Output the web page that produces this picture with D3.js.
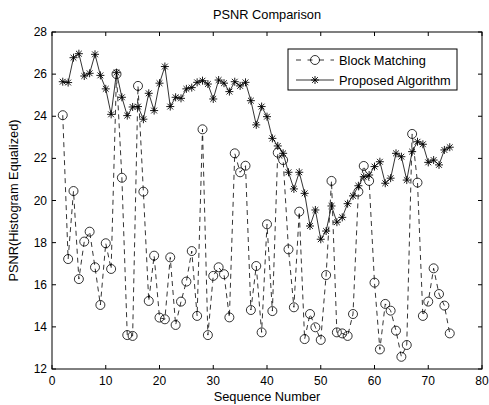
<!DOCTYPE html>
<html>
<head>
<meta charset="utf-8">
<script src="https://cdn.jsdelivr.net/npm/d3@7"></script>
<style>
  body { margin: 0; background: #fff; }
  svg { display: block; font-family: 'Liberation Sans', Arial, sans-serif; }
</style>
</head>
<body>
<svg width="489" height="405"></svg>
<script>
// Sequence numbers and PSNR values
const sequence = d3.range(2, 75)
const blockMatching = [
  24.05, 17.22, 20.45, 16.27, 18.05, 18.52, 16.83, 15.04, 17.97, 16.75,
  26.0, 21.08, 13.61, 13.57, 25.44, 20.42, 15.23, 17.38, 14.44, 14.36,
  17.3, 14.09, 15.2, 16.15, 17.6, 14.52, 23.38, 13.61, 16.42, 16.83,
  16.5, 14.45, 22.24, 21.34, 21.65, 14.8, 16.89, 13.74, 18.87, 14.75,
  22.27, 21.92, 17.68, 14.93, 19.47, 13.42, 14.61, 13.98, 13.38, 16.46,
  20.93, 13.74, 13.69, 13.57, 14.61, 20.42, 21.64, 20.93, 16.1, 12.93,
  15.09, 14.77, 13.82, 12.58, 13.14, 23.16, 20.85, 14.52, 15.2, 16.78,
  15.56, 15.01, 13.69,
]
const proposed = [
  25.64, 25.6, 26.78, 26.97, 25.91, 26.04, 26.94, 25.94, 25.3, 24.09,
  26.07, 24.9, 24.03, 24.44, 24.46, 23.86, 25.09, 24.27, 25.57, 26.36,
  24.46, 24.9, 24.85, 25.3, 25.36, 25.61, 25.69, 25.53, 24.82, 25.72,
  25.57, 25.17, 25.64, 25.44, 25.61, 24.74, 23.59, 24.46, 23.98, 22.95,
  22.59, 22.24, 21.34, 20.55, 21.34, 20.34, 18.79, 19.55, 18.16, 18.55,
  19.74, 18.97, 19.2, 19.85, 20.22, 20.7, 21.13, 21.21, 21.61, 21.84,
  20.82, 21.06, 22.24, 22.08, 20.97, 22.32, 22.79, 22.67, 21.81, 21.92,
  21.69, 22.4, 22.53,
]
const xTicks = [0, 10, 20, 30, 40, 50, 60, 70, 80]
const yTicks = [12, 14, 16, 18, 20, 22, 24, 26, 28]
const seriesNames = ['Block Matching', 'Proposed Algorithm']

const svg = d3.select('svg')
const plotLeft = 52
const plotRight = 482
const plotTop = 32
const plotBottom = 369
const labelSize = 12.8

const x = d3.scaleLinear().domain([0, 80]).range([plotLeft, plotRight])
const y = d3.scaleLinear().domain([12, 28]).range([plotBottom, plotTop])

// star marker like matlab '*'
const starPath = (s) => {
  const d = s * 0.72
  return `M${-s},0L${s},0M0,${-s}L0,${s}M${-d},${-d}L${d},${d}M${-d},${d}L${d},${-d}`
}

// axes box with inward ticks on all sides
const tickLen = 4
const axisG = svg.append('g').attr('fill', 'none').attr('stroke', '#000').attr('stroke-width', 1)

axisG.append('rect')
  .attr('x', plotLeft).attr('y', plotTop)
  .attr('width', plotRight - plotLeft).attr('height', plotBottom - plotTop)

xTicks.forEach((t) => {
  axisG.append('path').attr('d', `M${x(t)},${plotBottom}v${-tickLen}M${x(t)},${plotTop}v${tickLen}`)
})
yTicks.forEach((t) => {
  axisG.append('path').attr('d', `M${plotLeft},${y(t)}h${tickLen}M${plotRight},${y(t)}h${-tickLen}`)
})

svg.append('g')
  .selectAll('text')
  .data(xTicks)
  .join('text')
  .attr('x', (d) => x(d))
  .attr('y', plotBottom + 16)
  .attr('text-anchor', 'middle')
  .attr('font-size', 12)
  .text((d) => d)

svg.append('g')
  .selectAll('text')
  .data(yTicks)
  .join('text')
  .attr('x', plotLeft - 5)
  .attr('y', (d) => y(d) + 4)
  .attr('text-anchor', 'end')
  .attr('font-size', 12)
  .text((d) => d)

// titles
svg.append('text')
  .attr('x', (plotLeft + plotRight) / 2)
  .attr('y', 19)
  .attr('text-anchor', 'middle')
  .attr('font-size', labelSize)
  .text('PSNR Comparison')

svg.append('text')
  .attr('x', (plotLeft + plotRight) / 2)
  .attr('y', 401)
  .attr('text-anchor', 'middle')
  .attr('font-size', labelSize)
  .text('Sequence Number')

svg.append('text')
  .attr('transform', `translate(18,${(plotTop + plotBottom) / 2}) rotate(-90)`)
  .attr('text-anchor', 'middle')
  .attr('font-size', labelSize)
  .text('PSNR(Histogram Equalized)')

// lines
const line = (vals) => d3.line()
  .x((d, i) => x(sequence[i]))
  .y((d) => y(d))(vals)

const plot = svg.append('g')

plot.append('path')
  .attr('d', line(blockMatching))
  .attr('fill', 'none')
  .attr('stroke', '#000')
  .attr('stroke-width', 0.8)
  .attr('stroke-dasharray', '5,4')

plot.append('path')
  .attr('d', line(proposed))
  .attr('fill', 'none')
  .attr('stroke', '#000')
  .attr('stroke-width', 0.8)

plot.selectAll('circle')
  .data(blockMatching)
  .join('circle')
  .attr('cx', (d, i) => x(sequence[i]))
  .attr('cy', (d) => y(d))
  .attr('r', 4.5)
  .attr('fill', 'none')
  .attr('stroke', '#000')
  .attr('stroke-width', 0.8)

plot.selectAll('path.star')
  .data(proposed)
  .join('path')
  .attr('class', 'star')
  .attr('transform', (d, i) => `translate(${x(sequence[i])},${y(d)})`)
  .attr('d', starPath(4))
  .attr('stroke', '#000')
  .attr('stroke-width', 0.9)

// legend
const legend = svg.append('g')
legend.append('rect')
  .attr('x', 288).attr('y', 49)
  .attr('width', 169).attr('height', 41)
  .attr('fill', '#fff')
  .attr('stroke', '#000')
  .attr('stroke-width', 1)

const rows = [60, 80]
legend.append('path')
  .attr('d', `M296,${rows[0]}H334`)
  .attr('stroke', '#000').attr('stroke-width', 0.8).attr('stroke-dasharray', '5,6.5')
legend.append('circle')
  .attr('cx', 315).attr('cy', rows[0]).attr('r', 4.5)
  .attr('fill', 'none').attr('stroke', '#000').attr('stroke-width', 0.8)
legend.append('path')
  .attr('d', `M296,${rows[1]}H334`)
  .attr('stroke', '#000').attr('stroke-width', 0.8)
legend.append('path')
  .attr('transform', `translate(315,${rows[1]})`)
  .attr('d', starPath(4))
  .attr('stroke', '#000').attr('stroke-width', 0.9)

legend.selectAll('text.lbl')
  .data(seriesNames)
  .join('text')
  .attr('class', 'lbl')
  .attr('x', 339)
  .attr('y', (d, i) => rows[i] + 4.5)
  .attr('font-size', labelSize)
  .text((d) => d)
</script>
</body>
</html>
